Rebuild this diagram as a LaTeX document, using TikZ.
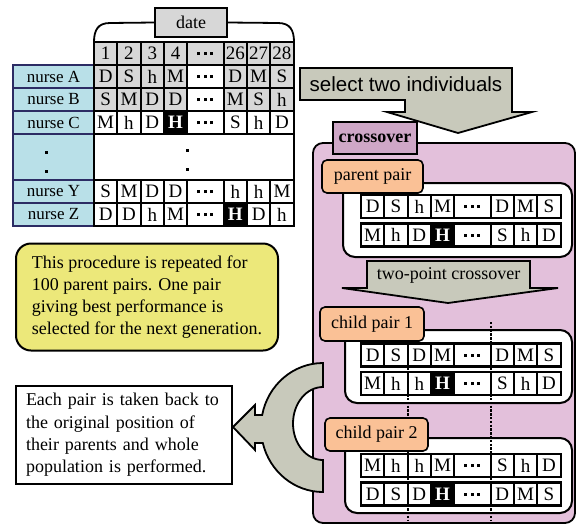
\documentclass[tikz,border=0pt]{standalone}
\usepackage{fontspec}
\setmainfont{Liberation Serif}
\setsansfont{Liberation Sans}

\definecolor{mauve}{RGB}{227,192,219}
\definecolor{mauvedark}{RGB}{207,167,199}
\definecolor{peach}{RGB}{250,193,150}
\definecolor{sage}{RGB}{200,201,187}
\definecolor{lemon}{RGB}{236,232,122}
\definecolor{aqua}{RGB}{185,224,232}
\definecolor{navy}{RGB}{44,44,100}
\definecolor{cellgrey}{RGB}{215,215,215}

\newcommand{\gapdots}{\rule{3pt}{3pt}\hspace{3.5pt}\rule{3pt}{3pt}\hspace{3.5pt}\rule{3pt}{3pt}}

\begin{document}
\begin{tikzpicture}[x=1pt, y=1pt, yscale=-1,
	cell/.style={draw, line width=2.2pt, minimum width=23.3pt, minimum height=23pt, inner sep=0pt, font=\fontsize{19}{19}\selectfont},
	cell H/.style={fill=black, text=white, font=\fontsize{19}{19}\selectfont\bfseries},
	dotcell/.style={cell, minimum width=36.5pt},
	who/.style={draw=navy, fill=aqua, line width=1.8pt, minimum width=81pt, minimum height=23pt, inner sep=0pt, font=\rmfamily\fontsize{17}{17}\selectfont},
	tag/.style={draw, fill=peach, rounded corners=5pt, line width=1.6pt, inner sep=0pt, font=\fontsize{18}{18}\selectfont},
	pairbox/.style={draw, fill=white, rounded corners=12pt, line width=2pt},
	bigarrow/.style={draw, fill=sage, line width=1.8pt, line join=miter},
	note/.style={draw, line width=2pt, inner ysep=0pt, align=left, font=\fontsize{18}{22}\selectfont},
	cut/.style={line width=1.8pt, dash pattern=on 2.4pt off 1.4pt}]

	\useasboundingbox (0,0) rectangle (577,525);

	% date brace
	\node[draw, fill=cellgrey, line width=1.5pt, minimum width=72pt, minimum height=29pt, inner sep=0pt, font=\fontsize{18}{18}\selectfont] (date) at (191,22.5) {date};
	\draw[line width=1.8pt] (94,42) .. controls (94,30) and (98,23) .. (110,23) -- (date.west);
	\draw[line width=1.8pt] (date.east) -- (278,23) .. controls (290,23) and (294,30) .. (294,42);

	% nurse names
	\node[who] (nA) at (53.5,76.5) {nurse A};
	\node[who] (nB) at (53.5,99.5) {nurse B};
	\node[who] (nC) at (53.5,122.5) {nurse C};
	\node[who, minimum height=46pt] (nX) at (53.5,157) {};
	\node[who] (nY) at (53.5,191.5) {nurse Y};
	\node[who] (nZ) at (53.5,214.5) {nurse Z};
	\fill (44.5,150.5) rectangle ++(3,3);
	\fill (44.5,169.5) rectangle ++(3,3);

	% table
	\foreach \s [count=\i] in {1,2,3,4,26,27,28} {
		\pgfmathsetmacro\cx{94+(\i-0.5)*23.3+(\i>4)*36.5}
		\node[cell, fill=cellgrey] (day\i) at (\cx,53.5) {\s};
	}
	\node[dotcell, fill=cellgrey] (daydots) at (205.45,53.5) {\gapdots};
	\foreach \r/\y/\f/\row in {A/76.5/cellgrey/{D,S,h,M,D,M,S}, B/99.5/cellgrey/{S,M,D,D,M,S,h},
		C/122.5/white/{M,h,D,H,S,h,D}, Y/191.5/white/{S,M,D,D,h,h,M}, Z/214.5/white/{D,D,h,M,H,D,h}} {
		\foreach \s [count=\i] in \row {
			\pgfmathsetmacro\cx{94+(\i-0.5)*23.3+(\i>4)*36.5}
			\node[cell, fill=\f, cell \s/.try] (\r\i) at (\cx,\y) {\s};
		}
		\node[dotcell, fill=white] (\r dots) at (205.45,\y) {\gapdots};
	}
	\node[cell, fill=white, minimum width=199.6pt, minimum height=46pt] (gap) at (193.8,157) {};
	\fill (185.7,148.5) rectangle ++(3,3);
	\fill (185.7,167.5) rectangle ++(3,3);

	% crossover
	\draw[draw, fill=mauve, rounded corners=10pt, line width=1.8pt] (313,143) rectangle (575,523);
	\node[draw, fill=mauvedark, line width=1.8pt, minimum width=84pt, minimum height=32pt, inner sep=0pt, font=\fontsize{18}{18}\selectfont\bfseries] (xover) at (375,138) {crossover};
	\draw[bigarrow] (300,68) -- (512,68) -- (512,112) -- (532,112) -- (458,133) -- (387,112) -- (405,112) -- (405,100) -- (300,100) -- cycle;
	\node[font=\sffamily\fontsize{20.5}{20.5}\selectfont] (select) at (406,84) {select two individuals};

	\draw[pairbox] (343,183) rectangle (572,257);
	\draw[bigarrow] (367,261) -- (530,261) -- (530,288) -- (558,288) -- (448,303) -- (342,288) -- (367,288) -- cycle;
	\node[font=\fontsize{18}{18}\selectfont] (twopoint) at (448.5,275) {two-point crossover};
	\draw[pairbox] (345,330) rectangle (572,403);
	\draw[pairbox] (345,438) rectangle (572,513);

	\foreach \r/\y/\row in {P1/206.5/{D,S,h,M,D,M,S}, P2/235/{M,h,D,H,S,h,D},
		Q1/355/{D,S,D,M,D,M,S}, Q2/383.5/{M,h,h,H,S,h,D},
		R1/465.5/{M,h,h,M,S,h,D}, R2/494/{D,S,D,H,D,M,S}} {
		\foreach \s [count=\i] in \row {
			\pgfmathsetmacro\cx{361+(\i-0.5)*23.3+(\i>4)*36.5}
			\node[cell, fill=white, cell \s/.try] (\r-\i) at (\cx,\y) {\s};
		}
		\node[dotcell, fill=white] (\r-dots) at (472.45,\y) {\gapdots};
	}

	% cut points
	\coordinate (cut1top) at (407.6,322);
	\coordinate (cut1end) at (407.6,520);
	\coordinate (cut2top) at (490.7,322);
	\coordinate (cut2end) at (490.7,520);
	\draw[cut] (cut1top) -- (cut1end);
	\draw[cut] (cut2top) -- (cut2end);

	\node[tag, minimum width=101pt, minimum height=33pt] (parents) at (372.5,176.5) {parent pair};
	\node[tag, minimum width=104pt, minimum height=34pt] (child1) at (372,324) {child pair 1};
	\node[tag, minimum width=103pt, minimum height=33pt] (child2) at (376.5,434.5) {child pair 2};

	% back to population
	\draw[bigarrow] (323,363) arc[start angle=270, end angle=191.2, x radius=62, y radius=64.5]
		-- (255,415) -- (255,405) -- (233,427) -- (255,450) -- (255,443) -- (262.8,443)
		arc[start angle=166.1, end angle=90, x radius=62, y radius=64.5]
		-- (323,460) arc[start angle=90, end angle=270, x radius=30, y radius=36.5] -- cycle;

	\node[note, fill=lemon, rounded corners=15pt, inner xsep=0pt, minimum width=262pt, minimum height=107pt] (repeat) at (147,297)
		{This procedure is repeated for\\100 parent pairs. One pair\\giving best performance is\\selected for the next generation.};
	\node[note, fill=white, text width=196pt, inner xsep=10pt, minimum height=98pt, font=\fontsize{18}{22.3}\selectfont] (back) at (124,435)
		{Each pair is taken back to\\the original position of\\their parents and whole\\population is performed.};

\end{tikzpicture}
\end{document}
